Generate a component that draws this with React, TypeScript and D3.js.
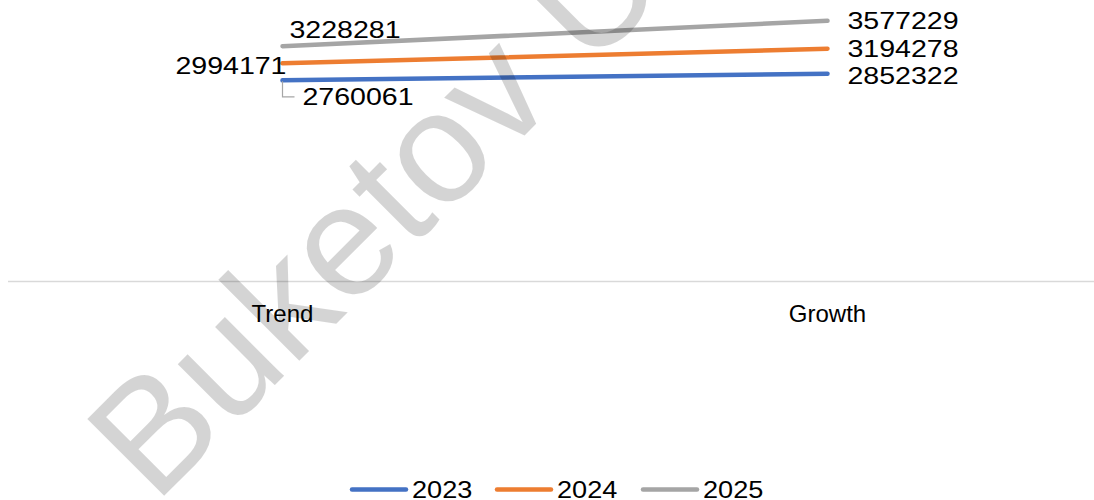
import React from "react";
import * as d3 from "d3";

const width = 1094;
const height = 500;

// data
const categories = ["Trend", "Growth"];
const seriesNames = ["2023", "2024", "2025"];
const values2023 = [2760061, 2852322];
const values2024 = [2994171, 3194278];
const values2025 = [3228281, 3577229];
const colors = ["#4472C4", "#ED7D31", "#A5A5A5"];

const font = "'Liberation Sans', Arial, sans-serif";
const digitStretch = 1.19;

const xScale = d3.scalePoint<string>().domain(categories).range([10, 1100]).padding(0.5);
const yScale = d3.scaleLinear().domain([0, 4000000]).range([281.5, -10]);

const line = d3
  .line<number>()
  .x((d, i) => xScale(categories[i]) as number)
  .y((d) => yScale(d));

// label placement for the first category, relative to the point
const trendLabel = [
  { dx: 20, dy: 25, anchor: "start" },
  { dx: 4, dy: 10.5, anchor: "end" },
  { dx: 7, dy: -8, anchor: "start" },
];
const growthLabelDy = [10.5, 8.5, 8.5];

function Label({ x, y, text, anchor, stretch }) {
  return (
    <text
      transform={`translate(${x},${y}) scale(${stretch},1)`}
      textAnchor={anchor}
      fontFamily={font}
      fontSize={24}
      fill="#000"
    >
      {text}
    </text>
  );
}

export default function App() {
  const series = [values2023, values2024, values2025];
  const xT = xScale(categories[0]) as number;
  const xG = xScale(categories[1]) as number;
  const y0 = yScale(0);
  const legendX = [352, 497, 643];
  const legendY = 489.5;

  return (
    <svg
      width={width}
      height={height}
      style={{ position: "absolute", left: 0, top: 0, background: "#fff" }}
    >
      {/* category axis */}
      <line x1={8} x2={width} y1={y0} y2={y0} stroke="#d9d9d9" strokeWidth={1.5} />
      {categories.map((c) => (
        <text
          key={c}
          x={xScale(c)}
          y={322}
          textAnchor="middle"
          fontFamily={font}
          fontSize={24}
          fill="#000"
        >
          {c}
        </text>
      ))}

      {/* lines */}
      {series.map((s, i) => (
        <path
          key={seriesNames[i]}
          d={line(s) as string}
          fill="none"
          stroke={colors[i]}
          strokeWidth={4.5}
          strokeLinecap="round"
        />
      ))}

      {/* leader line for 2023 label */}
      <path
        d={`M${xT},${yScale(values2023[0]) + 1}V${yScale(values2023[0]) + 16.5}H${xT + 12}`}
        fill="none"
        stroke="#a6a6a6"
        strokeWidth={1.2}
      />

      {/* data labels */}
      {series.map((s, i) => (
        <g key={"lab" + i}>
          <Label
            x={xT + trendLabel[i].dx}
            y={yScale(s[0]) + trendLabel[i].dy}
            text={String(s[0])}
            anchor={trendLabel[i].anchor}
            stretch={digitStretch}
          />
          <Label
            x={xG + 20}
            y={yScale(s[1]) + growthLabelDy[i]}
            text={String(s[1])}
            anchor="start"
            stretch={digitStretch}
          />
        </g>
      ))}

      {/* legend */}
      {seriesNames.map((n, i) => (
        <g key={n}>
          <line
            x1={legendX[i]}
            x2={legendX[i] + 54}
            y1={legendY}
            y2={legendY}
            stroke={colors[i]}
            strokeWidth={4.5}
            strokeLinecap="round"
          />
          <Label x={legendX[i] + 60} y={497.5} text={n} anchor="start" stretch={1.13} />
        </g>
      ))}

      {/* watermark */}
      <text
        transform="translate(155,505) rotate(-45)"
        fontFamily={font}
        fontSize={158}
        fill="#000"
        fillOpacity={0.17}
      >
        Buketov University
      </text>
    </svg>
  );
}
